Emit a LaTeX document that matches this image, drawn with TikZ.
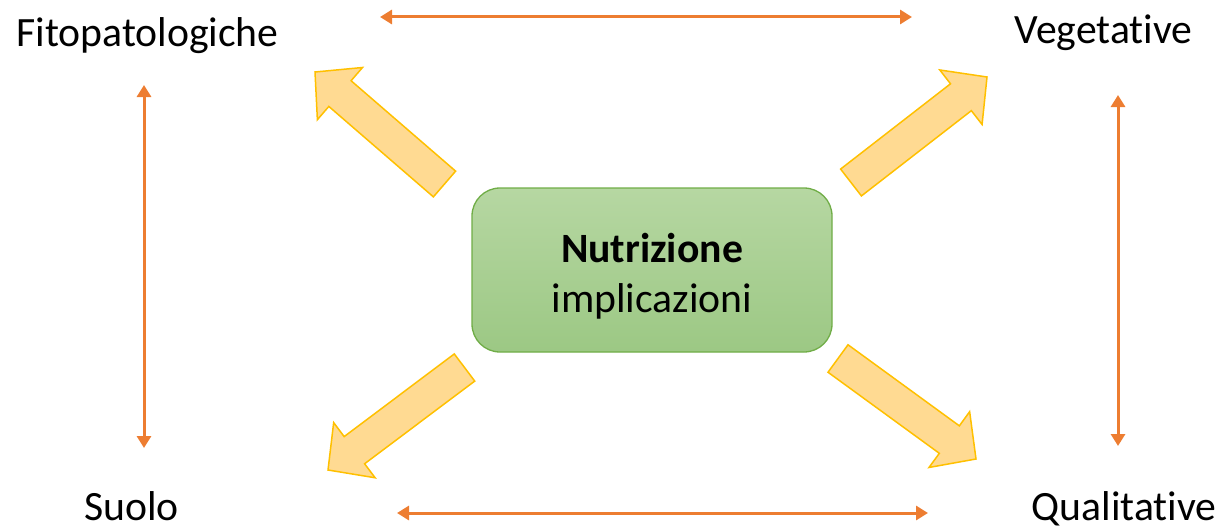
\documentclass[tikz,border=0pt]{standalone}
\usepackage{fontspec}
\setmainfont{Carlito}[RawFeature={-liga;-clig;-calt;-dlig}]
\usetikzlibrary{arrows.meta,calc}
\definecolor{orng}{HTML}{ED7D31}
\definecolor{gold}{HTML}{FFC000}
\definecolor{goldfill}{HTML}{FFDA92}
\definecolor{gtop}{HTML}{B6D7A2}
\definecolor{gbot}{HTML}{9CC884}
\definecolor{gedge}{HTML}{70AD47}
\tikzset{
  lbl/.style={font=\fontsize{41.7}{50}\selectfont, inner sep=0pt, anchor=base},
  link/.style={draw=orng, line width=3pt, {Triangle[width=14pt,length=12pt]}-{Triangle[width=14pt,length=12pt]}},
  blk/.style={draw=gold, fill=goldfill, line width=1.5pt, line join=miter},
  box/.style={draw=gedge, line width=1.3pt, rounded corners=28pt, top color=gtop, bottom color=gbot,
    minimum width=360pt, minimum height=164pt, align=center, inner sep=0pt,
    text height=92pt, text depth=8pt,
    font=\fontsize{41.7}{50}\selectfont}
}
\newcommand{\blockarrow}[2]{%
  \coordinate (#1-h) at ($(#2)!33pt!(#1)$);
  \draw[blk] ($(#1)!17pt!90:(#2)$) -- ($(#1-h)!17pt!90:(#2)$) -- ($(#1-h)!34.5pt!90:(#2)$)
    -- (#2) -- ($(#1-h)!34.5pt!-90:(#2)$) -- ($(#1-h)!17pt!-90:(#2)$) -- ($(#1)!17pt!-90:(#2)$) -- cycle;
}
\begin{document}
\begin{tikzpicture}[x=1pt,y=-1pt]
\useasboundingbox (0,0) rectangle (1222,527);
% labels
\node[lbl] (fito) at (147.5,47) {Fitopatologiche};
\node[lbl] (veg) at (1103.5,43.5) {Vegetative};
\node[lbl] (suolo) at (131.5,520) {Suolo};
\node[lbl] (qual) at (1124,520) {Qualitative};
% central box
\node[box] (nutr) at (652,270) {{\bfseries Nutrizione}\\implicazioni};
% orange links
\coordinate (topL) at (380,17);
\coordinate (topR) at (912,17);
\coordinate (botL) at (397,513);
\coordinate (botR) at (928,513);
\coordinate (lefT) at (144,85);
\coordinate (lefB) at (144,448);
\coordinate (rigT) at (1118,95);
\coordinate (rigB) at (1118,446);
\draw[link] (topL) -- (topR);
\draw[link] (botL) -- (botR);
\draw[link] (lefT) -- (lefB);
\draw[link] (rigT) -- (rigB);
% block arrows
\coordinate (tlT) at (444.5,184);
\coordinate (tlP) at (315,72);
\coordinate (trT) at (851,182.5);
\coordinate (trP) at (987,77);
\coordinate (blT) at (464.5,367.5);
\coordinate (blP) at (328,470);
\coordinate (brT) at (838,358.5);
\coordinate (brP) at (976,459);
\blockarrow{tlT}{tlP}
\blockarrow{trT}{trP}
\blockarrow{blT}{blP}
\blockarrow{brT}{brP}
\end{tikzpicture}
\end{document}
